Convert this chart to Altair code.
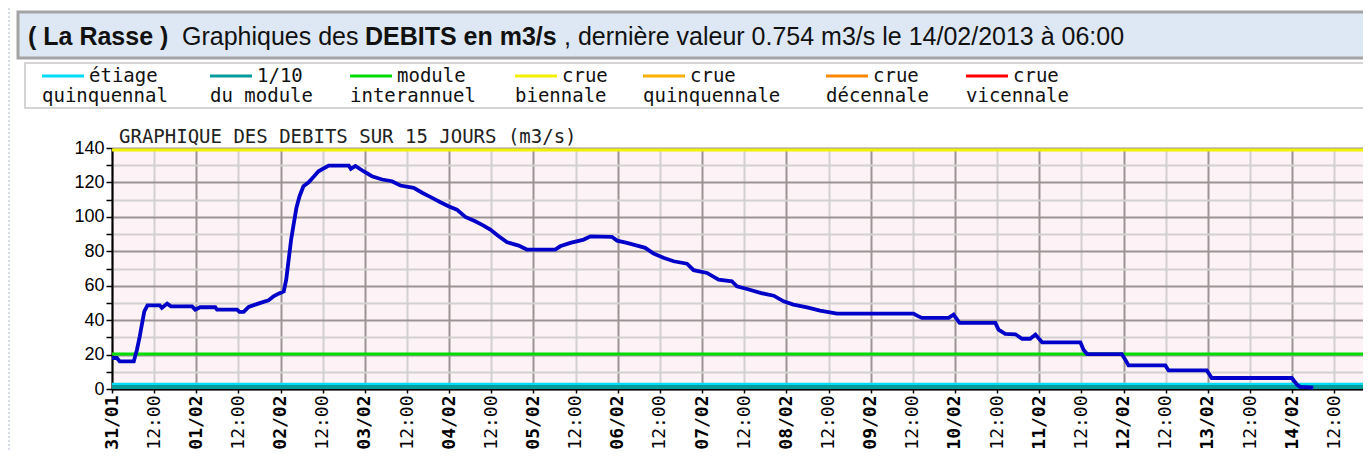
import altair as alt
import pandas as pd

# ------------------------------------------------------------------ data
start = pd.Timestamp("2013-01-31 00:00")

hours_since_start = [
    0, 1.4, 2.2, 6.2, 7.1, 7.9, 8.5, 9.2, 10.1, 13.6, 14.2, 15.7, 16.8, 22.8,
    23.7, 25.1, 29.4, 29.9, 35.6, 36.3, 37.5, 38.9, 40.8, 42.7, 44.6, 46.0,
    47.4, 48.9, 49.6, 50.3, 51.0, 51.7, 52.5, 53.4, 54.5, 56.0, 57.4, 58.8,
    60.2, 61.7, 67.4, 68.0, 69.3, 71.6, 74.0, 76.9, 79.7, 82.1, 85.9, 88.3,
    90.6, 93.5, 95.8, 98.2, 100.6, 103.4, 105.8, 107.7, 110.1, 112.5, 115.8,
    118.1, 126.2, 127.6, 130.5, 134.3, 136.2, 142.3, 143.8, 146.6, 149.5,
    151.8, 154.2, 157.0, 159.9, 163.7, 165.6, 169.4, 172.7, 176.5, 177.9,
    180.8, 184.6, 188.4, 191.2, 194.0, 197.9, 201.6, 206.4, 228.2, 229.2,
    230.6, 238.2, 239.6, 241.3, 251.5, 252.4, 254.3, 257.2, 259.1, 261.4,
    262.9, 264.8, 275.7, 276.6, 277.6, 287.5, 288.5, 289.4, 299.9, 300.8,
    311.7, 313.1, 335.9, 337.4, 338.3, 342.0,
]
debit = [
    18.0, 18.0, 16.0, 16.0, 22.8, 30.6, 37.4, 45.1, 48.6, 48.6, 47.1, 49.6,
    48.0, 48.0, 46.1, 47.5, 47.5, 46.1, 46.1, 44.8, 44.8, 47.7, 49.0, 50.3,
    51.5, 53.8, 55.4, 56.7, 63.5, 75.2, 86.8, 95.5, 105.2, 112.0, 117.8,
    120.1, 123.3, 126.5, 128.1, 129.8, 129.8, 127.9, 129.6, 126.5, 123.6,
    121.7, 120.7, 118.2, 116.9, 114.0, 111.6, 108.5, 106.2, 104.2, 100.0,
    97.4, 94.9, 92.6, 88.7, 85.2, 83.3, 81.0, 81.0, 82.9, 84.9, 86.8, 88.7,
    88.4, 86.2, 84.9, 83.3, 82.0, 78.7, 76.2, 74.2, 72.8, 69.0, 67.4, 63.5,
    62.6, 59.7, 58.1, 55.8, 54.2, 50.9, 49.0, 47.4, 45.5, 43.8, 43.8, 42.6,
    41.3, 41.3, 43.2, 38.4, 38.4, 34.5, 32.0, 31.8, 29.2, 29.2, 31.6, 27.1,
    27.1, 22.8, 20.3, 20.3, 17.0, 13.7, 13.7, 10.8, 10.8, 6.4, 6.4, 2.5,
    1.2, 0.754,
]

legend_line1 = ["étiage", "1/10", "module", "crue", "crue", "crue", "crue"]
legend_line2 = ["quinquennal", "du module", "interannuel", "biennale",
                "quinquennale", "décennale", "vicennale"]
# threshold levels visible inside the 0-140 window (index into legend lists)
threshold_index = [0, 1, 2, 3]
threshold_values = [2.9, 1.2, 20.3, 138.8]

y_tick_values = [0, 10, 20, 30, 40, 50, 60, 70, 80, 90, 100, 110, 120, 130, 140]

title_parts = ["( La Rasse )", "Graphiques des", "DEBITS en m3/s",
               ", dernière valeur 0.754 m3/s le 14/02/2013 à 06:00"]
chart_title = "GRAPHIQUE DES DEBITS SUR 15 JOURS (m3/s)"

# ------------------------------------------------------------------ styles / layout
legend_colors = ["#00dcf5", "#009c9c", "#00dc00", "#f0f000", "#ffb000",
                 "#ff8800", "#ff0000"]
rule_widths = [2.5, 4, 3, 3]
legend_x = [-70, 98, 238, 403, 531, 714, 854]
title_x = [-84, 70, 253, 452]
title_bold = [True, False, True, False]

W, H = 1251, 241
DARK, LIGHT = "#9c9494", "#d2d0d0"

df = pd.DataFrame({
    "temps": start + pd.to_timedelta(hours_since_start, unit="h"),
    "debit": debit,
})

tick_values = []
for i in range(30):
    ts = start + pd.Timedelta(hours=12 * i)
    tick_values.append(alt.DateTime(year=ts.year, month=ts.month, date=ts.day, hours=ts.hour))

x_axis = alt.Axis(
    values=tick_values, title=None, labelAngle=270,
    labelExpr="hours(datum.value) == 0 ? timeFormat(datum.value, '%d/%m') : timeFormat(datum.value, '%H:%M')",
    labelFont="DejaVu Sans Mono", labelFontSize=18, labelColor="#000",
    labelFontWeight={"condition": {"test": "hours(datum.value) == 0", "value": "bold"}, "value": "normal"},
    labelOverlap=False, labelFlush=False, labelPadding=2,
    grid=True, gridWidth=2,
    gridColor={"condition": {"test": "hours(datum.value) == 0", "value": DARK}, "value": LIGHT},
    domainColor="#000", domainWidth=2, tickColor="#000", tickSize=4, tickWidth=1.5,
)
y_axis = alt.Axis(
    values=y_tick_values, title=None,
    labelExpr="datum.value % 20 == 0 ? format(datum.value, 'd') : ''",
    labelFont="Liberation Sans", labelFontSize=18, labelColor="#000", labelPadding=2,
    labelOverlap=False, labelFlush=False,
    grid=True, gridWidth=2,
    gridColor={"condition": {"test": "datum.value % 20 == 0", "value": DARK}, "value": LIGHT},
    domainColor="#000", domainWidth=2, tickColor="#000", tickSize=6, tickWidth=1.5,
)

x_enc = alt.X("temps:T", axis=x_axis, scale=alt.Scale(domain=[
    alt.DateTime(year=2013, month=1, date=31, hours=0),
    alt.DateTime(year=2013, month=2, date=14, hours=20, minutes=10)]))
y_enc = alt.Y("debit:Q", axis=y_axis, scale=alt.Scale(domain=[0, 140], nice=False))

one = pd.DataFrame({"k": [0]})
layers = []

# left faint dotted border of the page
layers.append(alt.Chart(one).mark_rule(color="#c8d2e6", strokeDash=[2, 2], strokeWidth=1.5)
              .encode(x=alt.value(-103), y=alt.value(-140), y2=alt.value(303)))
# title bar
layers.append(alt.Chart(one).mark_rect(fill="#dde8f4", stroke="#a4a4a4", strokeWidth=3)
              .encode(x=alt.value(-94), x2=alt.value(1262), y=alt.value(-136), y2=alt.value(-90)))
for txt, xx, b in zip(title_parts, title_x, title_bold):
    layers.append(alt.Chart(one).mark_text(
        text=txt, align="left", baseline="alphabetic", font="Liberation Sans",
        fontSize=25, fontWeight="bold" if b else "normal", color="#111")
        .encode(x=alt.value(xx), y=alt.value(-103)))
# legend box
layers.append(alt.Chart(one).mark_rect(fill="#ffffff", stroke="#d4d4d4", strokeWidth=2)
              .encode(x=alt.value(-87), x2=alt.value(1262), y=alt.value(-85), y2=alt.value(-40)))
for l1, l2, c, xx in zip(legend_line1, legend_line2, legend_colors, legend_x):
    layers.append(alt.Chart(one).mark_rule(color=c, strokeWidth=3)
                  .encode(x=alt.value(xx), x2=alt.value(xx + 42), y=alt.value(-72)))
    layers.append(alt.Chart(one).mark_text(text=l1, align="left", baseline="alphabetic",
                  font="DejaVu Sans Mono", fontSize=19, color="#111")
                  .encode(x=alt.value(xx + 47), y=alt.value(-66)))
    layers.append(alt.Chart(one).mark_text(text=l2, align="left", baseline="alphabetic",
                  font="DejaVu Sans Mono", fontSize=19, color="#111")
                  .encode(x=alt.value(xx), y=alt.value(-46)))
# chart title
layers.append(alt.Chart(one).mark_text(text=chart_title, align="left", baseline="alphabetic",
              font="DejaVu Sans Mono", fontSize=19, color="#222")
              .encode(x=alt.value(7), y=alt.value(-5)))

# flow line
line = (alt.Chart(df).mark_line(color="#0000c8", strokeWidth=3.8, strokeJoin="miter")
        .encode(x=x_enc, y=y_enc))

# threshold rules (same y encoding / axis as the line)
rules = []
for idx, val, w in zip(threshold_index, threshold_values, rule_widths):
    tdf = pd.DataFrame({"seuil": [legend_line1[idx] + " " + legend_line2[idx]], "debit": [val]})
    rules.append(alt.Chart(tdf).mark_rule(color=legend_colors[idx], strokeWidth=w)
                 .encode(y=y_enc))

chart = alt.layer(*layers, *rules, line).properties(
    width=W, height=H,
    autosize=alt.AutoSizeParams(type="none"),
    padding={"left": 104, "top": 140, "right": 0, "bottom": 62},
).configure_view(fill="#fdf2f5", stroke="transparent"
).configure_axis(labelOverlap=False)

chart.save("out.html", embed_options={"renderer": "svg", "actions": False})
